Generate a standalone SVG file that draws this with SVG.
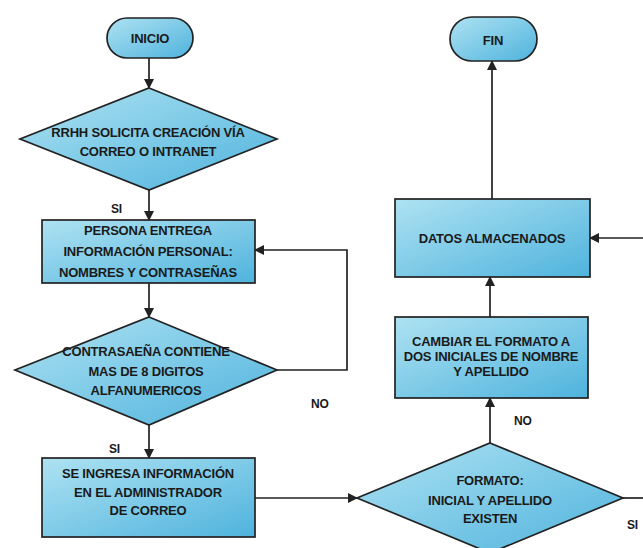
<svg xmlns="http://www.w3.org/2000/svg" width="643" height="548" viewBox="0 0 643 548">
<defs>
<linearGradient id="g" x1="0" y1="0" x2="1" y2="1">
<stop offset="0" stop-color="#aee2f2"/>
<stop offset="1" stop-color="#4fb3dd"/>
</linearGradient>
<marker id="ah" markerWidth="10" markerHeight="10" refX="9" refY="5" orient="auto" markerUnits="userSpaceOnUse">
<path d="M0,0 L10,5 L0,10 Z" fill="#222"/>
</marker>
<style>
.n{fill:url(#g);stroke:#222;stroke-width:1.7}
.t{font-family:"Liberation Sans",Arial,sans-serif;font-size:13px;font-weight:bold;fill:#1a1a1a;text-anchor:middle;letter-spacing:-0.2px}
.l{font-family:"Liberation Sans",Arial,sans-serif;font-size:12px;font-weight:bold;fill:#1a1a1a;letter-spacing:-0.2px}
.c{fill:none;stroke:#222;stroke-width:1.7}
</style>
</defs>
<rect width="643" height="548" fill="#ffffff"/>
<g id="connectors">
<path class="c" d="M149,58 V88" marker-end="url(#ah)"/>
<path class="c" d="M149,190 V220" marker-end="url(#ah)"/>
<path class="c" d="M149,283 V317" marker-end="url(#ah)"/>
<path class="c" d="M277,370 H347 V250 H255" marker-end="url(#ah)"/>
<path class="c" d="M149,425 V458" marker-end="url(#ah)"/>
<path class="c" d="M255,498 H357" marker-end="url(#ah)"/>
<path class="c" d="M490,443 V398" marker-end="url(#ah)"/>
<path class="c" d="M490,317 V277" marker-end="url(#ah)"/>
<path class="c" d="M492,199 V61" marker-end="url(#ah)"/>
<path class="c" d="M623,498 H643"/>
<path class="c" d="M643,238 H590" marker-end="url(#ah)"/>
<text class="l" x="111" y="213">SI</text>
<text class="l" x="311" y="408">NO</text>
<text class="l" x="109" y="453">SI</text>
<text class="l" x="514" y="425">NO</text>
<text class="l" x="627" y="529">SI</text>
</g>
<g id="inicio">
<rect class="n" x="107" y="18" width="86" height="40" rx="20"/>
<text class="t" x="150" y="43">INICIO</text>
</g>
<g id="rrhh">
<polygon class="n" points="149,88 277,139 149,190 20,139"/>
<text class="t" x="148" y="137">RRHH SOLICITA CREACIÓN VÍA</text>
<text class="t" x="148" y="156">CORREO O INTRANET</text>
</g>
<g id="persona">
<rect class="n" x="42" y="220" width="213" height="63"/>
<text class="t" x="148" y="235">PERSONA ENTREGA</text>
<text class="t" x="148" y="256">INFORMACIÓN PERSONAL:</text>
<text class="t" x="148" y="277">NOMBRES Y CONTRASEÑAS</text>
</g>
<g id="contrasena">
<polygon class="n" points="149,317 277,370 149,425 15,370"/>
<text class="t" x="146" y="356">CONTRASAEÑA CONTIENE</text>
<text class="t" x="146" y="376">MAS DE 8 DIGITOS</text>
<text class="t" x="146" y="395">ALFANUMERICOS</text>
</g>
<g id="ingresa">
<rect class="n" x="42" y="458" width="213" height="79"/>
<text class="t" x="148" y="478">SE INGRESA INFORMACIÓN</text>
<text class="t" x="148" y="497">EN EL ADMINISTRADOR</text>
<text class="t" x="148" y="515">DE CORREO</text>
</g>
<g id="formato">
<polygon class="n" points="490,443 623,498 490,553 357,498"/>
<text class="t" x="490" y="485">FORMATO:</text>
<text class="t" x="490" y="505">INICIAL Y APELLIDO</text>
<text class="t" x="490" y="523">EXISTEN</text>
</g>
<g id="cambiar">
<rect class="n" x="395" y="317" width="193" height="81"/>
<text class="t" x="491" y="346">CAMBIAR EL FORMATO A</text>
<text class="t" x="491" y="361">DOS INICIALES DE NOMBRE</text>
<text class="t" x="491" y="376">Y APELLIDO</text>
</g>
<g id="datos">
<rect class="n" x="395" y="199" width="195" height="78"/>
<text class="t" x="492" y="243">DATOS ALMACENADOS</text>
</g>
<g id="fin">
<rect class="n" x="450" y="17" width="87" height="44" rx="22"/>
<text class="t" x="493" y="45">FIN</text>
</g>
</svg>
